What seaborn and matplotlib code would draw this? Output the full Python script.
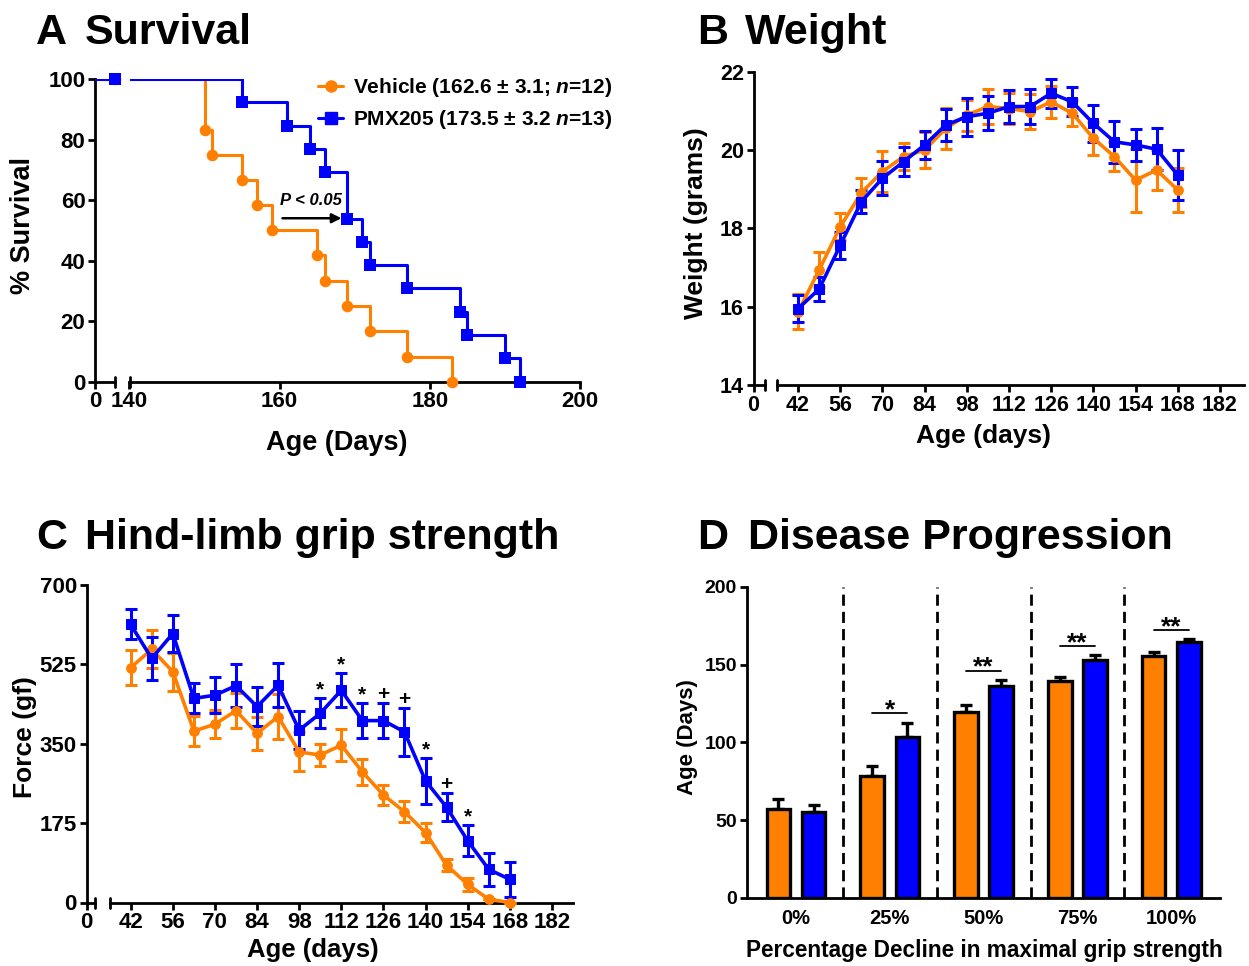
import numpy as np
import pandas as pd
import matplotlib
matplotlib.use("Agg")
import matplotlib.pyplot as plt
from matplotlib.lines import Line2D
import seaborn as sns

# ---------------- data ----------------
groups = ["Vehicle", "PMX205"]
group_colors = {"Vehicle": "#FF8000", "PMX205": "#0000FF"}
group_markers = {"Vehicle": "o", "PMX205": "s"}

# A: Kaplan-Meier survival (day of death, % surviving after that day)
veh_days = [0, 150, 151, 155, 157, 159, 165, 166, 169, 172, 177, 183]
veh_surv = [100, 83.3, 75.0, 66.7, 58.3, 50.0, 41.7, 33.3, 25.0, 16.7, 8.3, 0]
pmx_days = [0, 155, 161, 164, 166, 169, 171, 172, 177, 184, 185, 190, 192]
pmx_surv = [100, 92.3, 84.6, 76.9, 69.2, 53.8, 46.2, 38.5, 30.8, 23.1, 15.4, 7.7, 0]
surv_labels = ["Vehicle (162.6 ± 3.1; $n$=12)", "PMX205 (173.5 ± 3.2 $n$=13)"]
surv_xticks = [140, 160, 180, 200]
surv_yticks = [0, 20, 40, 60, 80, 100]

# B: body weight (mean, SEM)
age_days = [42, 49, 56, 63, 70, 77, 84, 91, 98, 105, 112, 119, 126, 133, 140, 147, 154, 161, 168]
veh_weight = [15.87, 16.94, 18.04, 18.91, 19.45, 19.83, 20.00, 20.55, 20.89, 21.11,
              21.06, 20.98, 21.23, 20.94, 20.30, 19.83, 19.23, 19.49, 18.98]
veh_weight_sem = [0.45, 0.45, 0.34, 0.37, 0.52, 0.34, 0.47, 0.53, 0.40, 0.44,
                  0.40, 0.44, 0.40, 0.33, 0.42, 0.37, 0.80, 0.50, 0.57]
pmx_weight = [15.95, 16.45, 17.57, 18.68, 19.28, 19.70, 20.13, 20.64, 20.85, 20.94,
              21.11, 21.11, 21.45, 21.23, 20.68, 20.21, 20.13, 20.02, 19.36]
pmx_weight_sem = [0.34, 0.30, 0.34, 0.30, 0.43, 0.37, 0.36, 0.42, 0.49, 0.43,
                  0.42, 0.44, 0.37, 0.37, 0.47, 0.53, 0.40, 0.54, 0.64]
age_ticks = [42, 56, 70, 84, 98, 112, 126, 140, 154, 168, 182]
weight_ticks = [14, 16, 18, 20, 22]

# C: hind-limb grip strength (mean, SEM)
veh_force = [518, 558, 509, 378, 393, 423, 373, 410, 332, 325,
             347, 288, 237, 200, 154, 82, 40, 7, 0]
veh_force_sem = [39, 42, 42, 33, 31, 38, 36, 49, 43, 24,
                 36, 29, 21, 23, 21, 13, 15, 0, 0]
pmx_force = [613, 538, 593, 450, 457, 478, 432, 479, 380, 417,
             468, 401, 401, 376, 268, 210, 136, 73, 51]
pmx_force_sem = [33, 48, 40, 33, 40, 48, 43, 48, 42, 33,
                 38, 38, 39, 53, 50, 31, 34, 37, 39]
force_ticks = [0, 175, 350, 525, 700]
grip_sig_days = [105, 112, 119, 126, 133, 140, 147, 154]
grip_sig_marks = ["*", "*", "*", "+", "+", "*", "+", "*"]

# D: age at each percentage decline in maximal grip strength (mean, SEM)
decline_levels = ["0%", "25%", "50%", "75%", "100%"]
veh_onset = [57.3, 78.1, 119.8, 139.5, 155.7]
veh_onset_sem = [6.2, 6.4, 4.2, 2.7, 2.2]
pmx_onset = [55.2, 103.3, 136.3, 153.0, 164.3]
pmx_onset_sem = [4.3, 9.4, 3.8, 3.0, 2.1]
onset_sig = ["", "*", "**", "**", "**"]
onset_ticks = [0, 50, 100, 150, 200]

# ---------------- style ----------------
sns.set_theme(style="ticks")
plt.rcParams["font.family"] = ["Liberation Sans", "DejaVu Sans"]
plt.rcParams.update({
    "font.weight": "bold",
    "axes.labelweight": "bold",
    "text.color": "black",
    "axes.labelcolor": "black",
    "mathtext.fontset": "custom",
    "mathtext.it": "Liberation Sans:italic:bold",
    "mathtext.rm": "Liberation Sans:bold",
    "mathtext.bf": "Liberation Sans:bold",
    "axes.linewidth": 2.0,
    "xtick.major.width": 2.0,
    "ytick.major.width": 2.0,
    "xtick.major.size": 5,
    "ytick.major.size": 5,
    "xtick.direction": "out",
    "ytick.direction": "out",
    "xtick.color": "black",
    "ytick.color": "black",
    "axes.edgecolor": "black",
})

W, H = 1249, 966
fig = plt.figure(figsize=(W / 100, H / 100), dpi=100)


def px_axes(left, right, top, bottom):
    return fig.add_axes([left / W, 1 - bottom / H, (right - left) / W, (bottom - top) / H])


def fig_px(x, y):
    return x / W, 1 - y / H


def style_axes(ax, tick_size):
    for side in ("top", "right"):
        ax.spines[side].set_visible(False)
    ax.tick_params(labelsize=tick_size, colors="black", pad=2)
    for lab in ax.get_xticklabels() + ax.get_yticklabels():
        lab.set_fontweight("bold")


def place_ylabel(ax, text, size, x, y):
    ax.set_ylabel(text, fontsize=size, fontweight="bold", color="black")
    ax.yaxis.set_label_coords(*fig_px(x, y), transform=fig.transFigure)
    ax.yaxis.label.set_verticalalignment("center")
    ax.yaxis.label.set_horizontalalignment("center")


def place_xlabel(ax, text, size, x, y):
    ax.set_xlabel(text, fontsize=size, fontweight="bold", color="black")
    ax.xaxis.set_label_coords(*fig_px(x, y), transform=fig.transFigure)
    ax.xaxis.label.set_verticalalignment("center")
    ax.xaxis.label.set_horizontalalignment("center")


def broken_pair(seg_left, seg_right, main_left, main_right, top, bottom, ylim, yticks, tick_size):
    """A short first x segment holding the origin, then the main segment."""
    ax0 = px_axes(seg_left, seg_right, top, bottom)
    ax = px_axes(main_left, main_right, top, bottom)
    ax0.set_xlim(0, 1)
    ax0.set_xticks([0])
    ax0.set_xticklabels(["0"])
    for a in (ax0, ax):
        a.set_ylim(*ylim)
        a.patch.set_alpha(0)
    ax0.set_yticks(yticks)
    ax.spines["left"].set_visible(False)
    ax.tick_params(left=False, labelleft=False)
    style_axes(ax0, tick_size)
    style_axes(ax, tick_size)
    # break bars at the two inner ends of the x axis
    h = bottom - top
    d = 5 / h
    ax0.plot([1, 1], [-d, d], transform=ax0.transAxes, color="black", lw=2, clip_on=False)
    ax.plot([0, 0], [-d, d], transform=ax.transAxes, color="black", lw=2, clip_on=False)
    return ax0, ax


def panel_title(letter, text, x_letter, x_text, y_base):
    fig.text(*fig_px(x_letter, y_base), letter, fontsize=31, fontweight="bold",
             va="baseline", color="black")
    fig.text(*fig_px(x_text, y_base), text, fontsize=31, fontweight="bold",
             va="baseline", color="black")


# ---------------- A: survival ----------------
axA0, axA = broken_pair(95.2, 115, 129.5, 580, 79, 381.7, (0, 100), surv_yticks, 16)
axA.set_xlim(140, 200)
axA.set_xticks(surv_xticks)
axA.set_xticklabels([str(t) for t in surv_xticks], fontweight="bold")

surv_sets = [(veh_days, veh_surv), (pmx_days, pmx_surv)]
for g, (days, surv) in zip(groups, surv_sets):
    c = group_colors[g]
    sns.lineplot(x=days, y=surv, ax=axA, color=c, lw=2.2, drawstyle="steps-post",
                 estimator=None, sort=False, zorder=3)
    sns.scatterplot(x=days[1:], y=surv[1:], ax=axA, color=c, marker=group_markers[g],
                    s=70, linewidth=0, zorder=4, clip_on=False)
    # the origin point sits on the short first segment
    axA0.axhline(surv[0], color=c, lw=2.2, zorder=3)
    axA0.scatter([axA0.get_xlim()[1]], [surv[0]], color=c, marker=group_markers[g],
                 s=70, linewidth=0, zorder=4, clip_on=False)

handles = [Line2D([], [], color=group_colors[g], marker=group_markers[g], lw=2.2, ms=8)
           for g in groups]
axA.legend(handles, surv_labels, loc="upper left", bbox_to_anchor=fig_px(318, 76),
           bbox_transform=fig.transFigure, frameon=False,
           handlelength=1.2, handletextpad=0.5, labelspacing=0.45, borderpad=0,
           borderaxespad=0, prop={"weight": "bold", "size": 15})

axA.text(164.2, 57.5, "P < 0.05", fontsize=12, fontweight="bold", fontstyle="italic",
         ha="center", va="bottom")
axA.annotate("", xy=(168.6, 54), xytext=(160, 54),
             arrowprops=dict(arrowstyle="-|>", lw=1.8, color="black", mutation_scale=14))

place_ylabel(axA0, "% Survival", 19.5, 23, 225)
place_xlabel(axA, "Age (Days)", 19.5, 337, 443)
panel_title("A", "Survival", 36, 85, 44)

# ---------------- B: weight ----------------
axB0, axB = broken_pair(753.5, 765, 777, 1244, 71.7, 385, (14, 22), weight_ticks, 15.5)
axB.set_xlim(35, 190)
axB.set_xticks(age_ticks)
axB.set_xticklabels([str(t) for t in age_ticks], fontweight="bold")

weight_sets = [(veh_weight, veh_weight_sem), (pmx_weight, pmx_weight_sem)]
for g, (m, e) in zip(groups, weight_sets):
    c = group_colors[g]
    axB.errorbar(age_days, m, yerr=e, fmt="none", ecolor=c, elinewidth=2.2,
                 capsize=4.5, capthick=2.2, zorder=3)
    sns.lineplot(x=age_days, y=m, ax=axB, color=c, lw=2.6, marker=group_markers[g],
                 markersize=7, markeredgecolor=c, estimator=None, zorder=4)

place_ylabel(axB0, "Weight (grams)", 19, 696, 223)
place_xlabel(axB, "Age (days)", 19, 983, 436)
panel_title("B", "Weight", 697, 745, 44)

# ---------------- C: grip strength ----------------
axC0, axC = broken_pair(86.5, 95.4, 109.6, 573, 585, 902.5, (0, 700), force_ticks, 16)
axC.set_xlim(35, 189)
axC.set_xticks(age_ticks)
axC.set_xticklabels([str(t) for t in age_ticks], fontweight="bold")

force_sets = [(veh_force, veh_force_sem), (pmx_force, pmx_force_sem)]
for g, (m, e) in zip(groups, force_sets):
    c = group_colors[g]
    axC.errorbar(age_days, m, yerr=e, fmt="none", ecolor=c, elinewidth=2.2,
                 capsize=4.5, capthick=2.2, zorder=3, clip_on=False)
    sns.lineplot(x=age_days, y=m, ax=axC, color=c, lw=2.6, marker=group_markers[g],
                 markersize=7, markeredgecolor=c, estimator=None, zorder=4, clip_on=False)

for day, mark in zip(grip_sig_days, grip_sig_marks):
    i = age_days.index(day)
    top = pmx_force[i] + pmx_force_sem[i]
    axC.annotate(mark, (day, top), xytext=(0, 2), textcoords="offset points",
                 ha="center", va="baseline", fontsize=15, fontweight="bold")

place_ylabel(axC0, "Force (gf)", 19, 25, 737)
place_xlabel(axC, "Age (days)", 18.5, 313, 950)
panel_title("C", "Hind-limb grip strength", 36, 85, 549)

# ---------------- D: disease progression ----------------
axD = px_axes(746.8, 1220, 586.7, 898)
onset_df = pd.DataFrame({
    "decline": decline_levels * 2,
    "age": veh_onset + pmx_onset,
    "sem": veh_onset_sem + pmx_onset_sem,
    "group": ["Vehicle"] * len(decline_levels) + ["PMX205"] * len(decline_levels),
})
sns.barplot(data=onset_df, x="decline", y="age", hue="group", order=decline_levels,
            hue_order=groups, palette=group_colors, saturation=1, width=0.75, gap=0.33,
            edgecolor="black", linewidth=2.4, errorbar=None, legend=False, ax=axD,
            zorder=3)
axD.set_xlim(-0.525, 4.52)
axD.set_ylim(0, 200)
axD.set_yticks(onset_ticks)

centers = {}
for g, cont in zip(groups, axD.containers):
    sub = onset_df[onset_df["group"] == g]
    xs = [p.get_x() + p.get_width() / 2 for p in cont.patches]
    centers[g] = xs
    axD.errorbar(xs, sub["age"], yerr=[np.zeros(len(sub)), sub["sem"]], fmt="none",
                 ecolor="black", elinewidth=2.4, capsize=4, capthick=2.4, zorder=2)

tops = (onset_df.assign(top=onset_df["age"] + onset_df["sem"])
        .groupby("decline")["top"].max())
for i, lvl in enumerate(decline_levels):
    if not onset_sig[i]:
        continue
    y = tops[lvl] + 6
    axD.plot([centers["Vehicle"][i], centers["PMX205"][i]], [y, y], color="black", lw=1.3)
    axD.annotate(onset_sig[i], ((centers["Vehicle"][i] + centers["PMX205"][i]) / 2, y),
                 xytext=(0, -3), textcoords="offset points", ha="center", va="baseline",
                 fontsize=19, fontweight="bold")

axD.vlines(np.arange(len(decline_levels) - 1) + 0.5, 0, 200, colors="black",
           linestyles=(0, (4, 2.2)), lw=2.0, zorder=1)
style_axes(axD, 14)
axD.tick_params(axis="x", length=0, pad=8, labelsize=14.5)
place_ylabel(axD, "Age (Days)", 16, 688, 737)
place_xlabel(axD, "Percentage Decline in maximal grip strength", 16.3, 984, 951)
panel_title("D", "Disease Progression", 697, 748, 549)

fig.savefig("out.png", dpi=100)
